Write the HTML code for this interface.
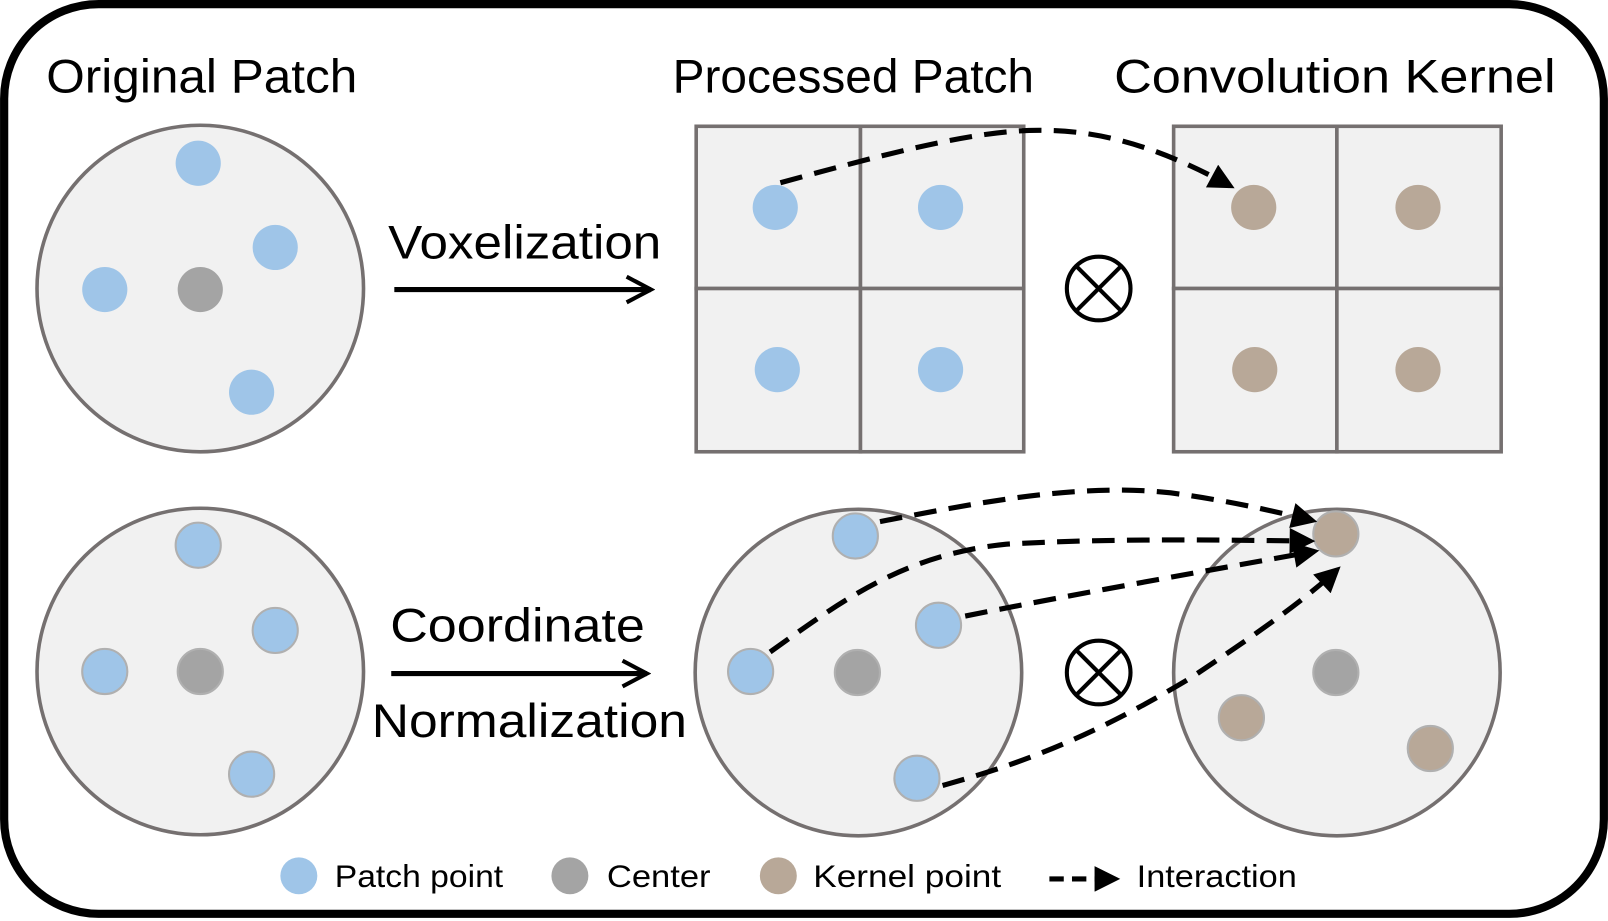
<!DOCTYPE html>
<html><head><meta charset="utf-8"><style>html,body{margin:0;padding:0;background:#fff}svg{display:block}</style></head>
<body>
<svg width="1608" height="921" viewBox="0 0 1566 897" xmlns="http://www.w3.org/2000/svg" font-family="Liberation Sans, sans-serif">
<defs>
<marker id="ah" viewBox="0 0 10 10" refX="8" refY="5" markerWidth="5.5" markerHeight="5" orient="auto" markerUnits="strokeWidth"><path d="M0,0 L10,5 L0,10 z" fill="#000"/></marker>
<marker id="ao" viewBox="0 0 12 12" refX="10.5" refY="6" markerWidth="6" markerHeight="6" orient="auto" markerUnits="strokeWidth"><path d="M1,1 L10.5,6 L1,11" fill="none" stroke="#000" stroke-width="1.6"/></marker>
</defs>
<rect x="4" y="4" width="1558" height="886" rx="92" fill="#fff" stroke="#000" stroke-width="8"/>
<g font-size="46" fill="#000">
<text x="45" y="90" textLength="303" lengthAdjust="spacingAndGlyphs">Original Patch</text>
<text x="655" y="90" textLength="352" lengthAdjust="spacingAndGlyphs">Processed Patch</text>
<text x="1085" y="90" textLength="430" lengthAdjust="spacingAndGlyphs">Convolution Kernel</text>
<text x="378" y="252" textLength="266" lengthAdjust="spacingAndGlyphs">Voxelization</text>
<text x="380" y="625" textLength="248" lengthAdjust="spacingAndGlyphs">Coordinate</text>
<text x="362" y="718" textLength="307" lengthAdjust="spacingAndGlyphs">Normalization</text>
</g>
<g stroke="#000" stroke-width="5" fill="none">
<line x1="384" y1="282" x2="634" y2="282" marker-end="url(#ao)"/>
<line x1="381" y1="656" x2="630" y2="656" marker-end="url(#ao)"/>
</g>
<g fill="#f1f1f1" stroke="#757070" stroke-width="3.5">
<circle cx="195" cy="281" r="159"/>
<circle cx="195" cy="654" r="159"/>
<circle cx="836" cy="655" r="159"/>
<circle cx="1302" cy="655" r="159"/>
<rect x="678" y="123" width="160" height="158"/><rect x="838" y="123" width="159" height="158"/>
<rect x="678" y="281" width="160" height="159"/><rect x="838" y="281" width="159" height="159"/>
<rect x="1143" y="123" width="159" height="158"/><rect x="1302" y="123" width="160" height="158"/>
<rect x="1143" y="281" width="159" height="159"/><rect x="1302" y="281" width="160" height="159"/>
</g>
<g fill="#9fc5e8">
<circle cx="193" cy="159" r="22"/><circle cx="268" cy="241" r="22"/><circle cx="102" cy="282" r="22"/><circle cx="245" cy="382" r="22"/>
<circle cx="755" cy="202" r="22"/><circle cx="916" cy="202" r="22"/><circle cx="757" cy="360" r="22"/><circle cx="916" cy="360" r="22"/>
</g>
<circle cx="195" cy="282" r="22" fill="#a4a4a4"/>
<g fill="#b8a898">
<circle cx="1221" cy="202" r="22"/><circle cx="1381" cy="202" r="22"/><circle cx="1222" cy="360" r="22"/><circle cx="1381" cy="360" r="22"/>
</g>
<g stroke="#b0b0b0" stroke-width="2">
<g fill="#9fc5e8">
<circle cx="193" cy="531" r="22"/><circle cx="268" cy="614" r="22"/><circle cx="102" cy="654" r="22"/><circle cx="245" cy="754" r="22"/>
<circle cx="833" cy="522" r="22"/><circle cx="914" cy="609" r="22"/><circle cx="731" cy="654" r="22"/><circle cx="893" cy="758" r="22"/>
</g>
<circle cx="195" cy="654" r="22" fill="#a4a4a4"/>
<circle cx="835" cy="655" r="22" fill="#a4a4a4"/>
<circle cx="1301" cy="655" r="22" fill="#a4a4a4"/>
<g fill="#b8a898"><circle cx="1301" cy="520" r="22"/><circle cx="1209" cy="699" r="22"/><circle cx="1393" cy="729" r="22"/></g>
</g>
<g stroke="#000" stroke-width="4" fill="none">
<circle cx="1070" cy="281" r="31"/>
<line x1="1048" y1="259" x2="1092" y2="303"/><line x1="1092" y1="259" x2="1048" y2="303"/>
<circle cx="1070" cy="655" r="31"/>
<line x1="1048" y1="633" x2="1092" y2="677"/><line x1="1092" y1="633" x2="1048" y2="677"/>
</g>
<g stroke="#000" stroke-width="5" fill="none" stroke-dasharray="22,12" marker-end="url(#ah)">
<path d="M760,178 C880,145 960,125 1020,127 C1090,128 1150,155 1198,181"/>
<path d="M857,508 C950,490 1050,470 1140,480 C1200,488 1250,500 1278,507"/>
<path d="M750,635 C820,585 880,540 980,530 C1080,524 1200,526 1276,527"/>
<path d="M940,600 C1050,578 1180,555 1280,537"/>
<path d="M918,765 C990,745 1060,720 1160,660 C1220,620 1270,585 1302,555"/>
<path d="M1022,856 L1086,856" stroke-dasharray="14,8"/>
</g>
<circle cx="291" cy="853" r="18" fill="#9fc5e8"/>
<circle cx="555" cy="853" r="18" fill="#a4a4a4"/>
<circle cx="758" cy="853" r="18" fill="#b8a898"/>
<g font-size="31" fill="#000">
<text x="326" y="864" textLength="164" lengthAdjust="spacingAndGlyphs">Patch point</text>
<text x="591" y="864" textLength="101" lengthAdjust="spacingAndGlyphs">Center</text>
<text x="792" y="864" textLength="183" lengthAdjust="spacingAndGlyphs">Kernel point</text>
<text x="1107" y="864" textLength="156" lengthAdjust="spacingAndGlyphs">Interaction</text>
</g>
</svg>
</body></html>
